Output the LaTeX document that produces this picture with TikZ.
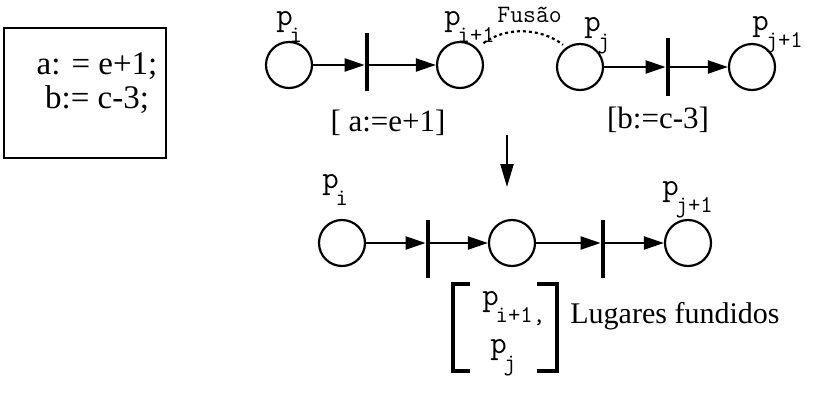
\documentclass[tikz,border=0pt]{standalone}
\usepackage{fontspec}
\setmainfont{Liberation Serif}
\usetikzlibrary{arrows.meta}

\newcommand\pname[1]{p\kern-0.1em\raisebox{-8.5pt}{\fontsize{12}{12}\selectfont #1}}

\tikzset{
  place/.style={circle,draw,line width=1.1pt,minimum size=23pt,inner sep=0pt},
  trans/.style={rectangle,fill=black,minimum width=2pt,minimum height=29pt,inner sep=0pt},
  arc/.style={line width=1.1pt,-{Triangle[length=10pt,width=6.5pt]}},
  plabel/.style={anchor=base west,inner sep=0pt,font=\ttfamily\fontsize{16}{16}\selectfont},
  guard/.style={anchor=base,inner sep=0pt,font=\fontsize{15.5}{15.5}\selectfont}
}

\begin{document}
\begin{tikzpicture}[x=0.5pt,y=-0.5pt]
\useasboundingbox (0,0) rectangle (814,392);
% the two assignments
\node[draw,line width=1.2pt,minimum width=81pt,minimum height=65pt,inner sep=0pt] (codebox) at (85,93) {};
\node[align=center,font=\fontsize{16.5}{17}\selectfont] (code) at (97,83) {a: = e+1;\\b:= c-3;};
% upper nets
\node[place] (pi) at (289,65) {};
\node[trans] (t1) at (367,62) {};
\node[place] (pi1) at (460,65) {};
\node[place] (pj) at (580,67) {};
\node[trans] (t2) at (668,67) {};
\node[place] (pj1) at (752,67) {};
\node[plabel] (lpi) at (276,25) {\pname{i}};
\node[plabel] (lpi1) at (444,25) {\pname{i+1}};
\node[plabel] (lpj) at (584,31) {\pname{j}};
\node[plabel] (lpj1) at (752,30) {\pname{j+1}};
\node[guard] (g1) at (388,131) {[ a:=e+1]};
\node[guard] (g2) at (658,128) {[b:=c-3]};
% fusion of the two places
\draw[line width=1.1pt,dash pattern=on 1.5pt off 1.5pt,shorten <=4pt,shorten >=2pt]
  (pi1.45) .. controls (505,27) and (540,27) .. (pj.125);
\node[anchor=base west,inner sep=0pt,font=\ttfamily\fontsize{12.5}{12.5}\selectfont] (fus) at (497,22) {Fusão};
\coordinate (dtop) at (507,135);
\coordinate (dbot) at (507,187);
\draw[line width=1.1pt,-{Triangle[length=11.5pt,width=6.5pt]}] (dtop) -- (dbot);
% lower net
\node[place] (bpi) at (342,243) {};
\node[trans] (bt1) at (428,249) {};
\node[place] (bmid) at (512,243) {};
\node[trans] (bt2) at (603,249) {};
\node[place] (bpj1) at (688,243) {};
\node[plabel] (lbpi) at (322,188) {\pname{i}};
\node[plabel] (lbpj1) at (662,195) {\pname{j+1}};
\foreach \a/\b in {pi/t1,pj/t2,bpi/bt1,bmid/bt2}
  \draw[arc] (\a) -- (\b.west |- \a);
\foreach \a/\b in {t1/pi1,t2/pj1,bt1/bmid,bt2/bpj1}
  \draw[arc] (\a |- \b) -- (\b);
% merged places
\node[plabel] (lfi) at (482,305) {\pname{i+1,}};
\node[plabel] (lfj) at (490,353) {\pname{j}};
\draw[line width=2pt] (470,284) -- (453,284) -- (453,371) -- (470,371);
\draw[line width=2pt] (537,284) -- (557,284) -- (557,371) -- (537,371);
\node[anchor=base west,inner sep=0pt,font=\fontsize{15}{15}\selectfont] (fund) at (570,323) {Lugares fundidos};
\end{tikzpicture}
\end{document}
